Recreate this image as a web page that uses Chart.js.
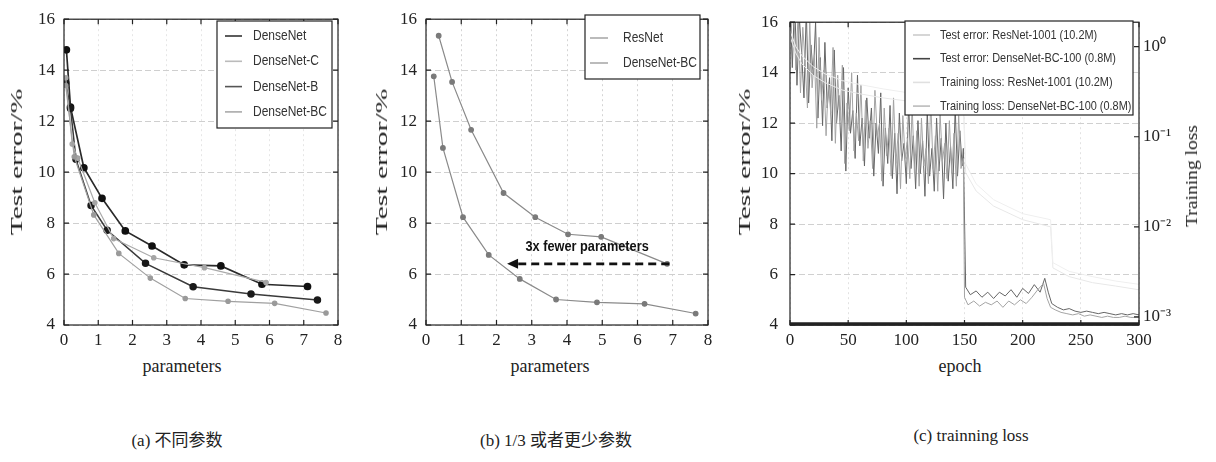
<!DOCTYPE html>
<html>
<head>
<meta charset="utf-8">
<script src="https://cdn.jsdelivr.net/npm/chart.js@4.4.1/dist/chart.umd.min.js"></script>
<style>
  body { margin: 0; background: #fff; width: 1216px; height: 462px; position: relative; overflow: hidden; }
  .panel { position: absolute; top: 0; }
  .t { position: absolute; font-family: "Liberation Serif", "Noto Sans CJK SC", serif; color: #222; white-space: nowrap; }
  .rot { transform-origin: center center; }
</style>
</head>
<body>
<div class="panel" style="left:0px"><canvas id="chartA" width="360" height="352"></canvas></div>
<div class="panel" style="left:370px"><canvas id="chartB" width="360" height="352"></canvas></div>
<div class="panel" style="left:735px"><canvas id="chartC" width="481" height="352"></canvas></div>

<div class="t rot" style="font-size:16px; left:-33px; top:153px; width:100px; text-align:center; transform:rotate(-90deg) scaleX(1.85);">Test error/%</div>
<div class="t rot" style="font-size:16px; left:332px; top:153px; width:100px; text-align:center; transform:rotate(-90deg) scaleX(1.85);">Test error/%</div>
<div class="t rot" style="font-size:16px; left:695px; top:153px; width:100px; text-align:center; transform:rotate(-90deg) scaleX(1.85);">Test error/%</div>
<div class="t rot" style="font-size:17px; left:1142px; top:166px; width:100px; text-align:center; transform:rotate(-90deg) scaleX(1.15);">Training loss</div>

<div class="t" style="font-size:18px; left:132px; top:356px; width:100px; text-align:center;">parameters</div>
<div class="t" style="font-size:18px; left:500px; top:356px; width:100px; text-align:center;">parameters</div>
<div class="t" style="font-size:18px; left:910px; top:356px; width:100px; text-align:center;">epoch</div>

<div class="t" style="font-size:17px; left:77px; top:426px; width:200px; text-align:center;">(a) 不同参数</div>
<div class="t" style="font-size:17px; left:456px; top:426px; width:200px; text-align:center;">(b) 1/3 或者更少参数</div>
<div class="t" style="font-size:17px; left:871px; top:426px; width:200px; text-align:center;">(c) trainning loss</div>

<script>
// (a) DenseNet variants, params (M) vs test error (%)
const denseX  = [0.07, 0.19, 0.58, 1.11, 1.79, 2.57, 3.51, 4.58, 5.78, 7.11];
const denseY  = [14.8, 12.55, 10.17, 8.97, 7.69, 7.1, 6.36, 6.32, 5.6, 5.51];
const denseCX = [0.05, 0.24, 0.4, 0.9, 1.45, 2.62, 4.1, 5.9];
const denseCY = [13.7, 11.1, 10.55, 8.8, 7.39, 6.64, 6.25, 5.67];
const denseBX = [0.05, 0.19, 0.35, 0.79, 1.26, 2.38, 3.77, 5.46, 7.4];
const denseBY = [13.5, 12.5, 10.5, 8.69, 7.72, 6.42, 5.5, 5.22, 4.98];
const denseBCX = [0.05, 0.3, 0.87, 1.6, 2.52, 3.54, 4.79, 6.15, 7.65];
const denseBCY = [13.4, 10.6, 8.32, 6.81, 5.84, 5.04, 4.93, 4.85, 4.47];

// (b) ResNet vs DenseNet-BC
const resX = [0.36, 0.74, 1.28, 2.2, 3.1, 4.03, 4.97, 6.84];
const resY = [15.35, 13.54, 11.66, 9.18, 8.23, 7.56, 7.46, 6.4];
const bcX  = [0.22, 0.48, 1.05, 1.78, 2.66, 3.69, 4.85, 6.2, 7.65];
const bcY  = [13.76, 10.95, 8.23, 6.75, 5.81, 5.0, 4.89, 4.83, 4.45];
const arrowFrom = [6.9, 6.4];
const arrowTo   = [2.3, 6.4];
const arrowText = '3x fewer parameters';
const arrowTextAt = [4.57, 7.05];

// (c) test error (%) and training loss per epoch
const denseErrEpoch = [0,2,4,6,8,10,12,14,16,18,20,22,24,26,28,30,32,34,36,38,40,42,44,46,48,50,52,54,56,58,60,62,64,66,68,70,72,74,76,78,
  80,82,84,86,88,90,92,94,96,98,100,102,104,106,108,110,112,114,116,118,120,122,124,126,128,130,132,134,136,138,140,142,144,146,148,149,
  151,155,160,165,170,175,180,185,190,195,200,205,210,215,219,222,225,230,235,240,245,250,255,260,265,270,275,280,285,290,295,300];
const denseErr = [16.8,14.2,17.0,13.5,16.2,14.8,13.0,16.5,12.8,15.1,13.9,16.0,12.2,14.6,11.9,15.2,12.6,13.8,11.3,14.9,12.0,13.1,10.9,14.2,10.1,13.4,11.6,12.5,10.6,13.9,11.1,12.2,10.3,13.0,11.4,12.6,9.9,12.0,10.8,13.2,
  9.5,11.8,10.4,12.7,9.8,11.6,9.2,12.4,10.5,11.2,9.6,12.8,10.2,11.5,9.4,12.1,10.0,11.3,9.1,12.5,9.9,11.0,9.3,12.2,10.1,11.4,9.0,12.0,9.7,11.1,9.4,12.6,9.9,11.7,10.3,11.0,
  5.5,5.2,5.35,5.1,5.3,5.05,5.3,5.15,5.4,5.1,5.45,5.25,5.6,5.3,5.85,5.3,4.85,4.7,4.6,4.65,4.55,4.5,4.55,4.5,4.45,4.5,4.45,4.4,4.45,4.4,4.45,4.4];
const resErrEpoch = [1,3,5,7,9,11,13,15,17,19,21,23,25,27,29,31,33,35,37,39,41,43,45,47,49,51,53,55,57,59,61,63,65,67,69,71,73,75,77,79,
  81,83,85,87,89,91,93,95,97,99,101,103,105,107,109,111,113,115,117,119,121,123,125,127,129,131,133,135,137,139,141,143,145,147,149,
  150,153,158,163,168,173,178,183,188,193,198,203,208,213,218,221,224,228,233,238,243,248,253,258,263,268,273,278,283,288,293,298,300];
const resErr = [15.6,17.0,14.1,16.4,13.2,15.8,14.4,12.6,16.0,13.4,14.7,11.8,15.4,12.9,14.1,11.5,13.6,12.4,15.0,11.2,13.9,12.1,14.3,10.4,12.8,11.7,14.0,10.9,12.4,11.3,13.5,10.5,12.9,11.0,12.1,10.2,13.3,11.5,12.0,9.7,
  12.6,10.7,11.8,9.9,13.0,10.4,11.6,9.4,12.3,10.6,11.4,9.8,12.7,10.0,11.7,9.5,12.2,10.3,11.0,9.6,12.9,10.2,11.5,9.3,12.4,10.5,11.2,9.8,12.1,10.0,11.6,9.5,12.3,10.2,10.6,
  5.1,4.8,4.95,4.75,4.9,4.8,4.95,4.7,4.95,4.8,5.0,4.85,5.1,5.4,5.65,5.05,4.7,4.6,4.5,4.45,4.4,4.45,4.35,4.4,4.35,4.3,4.35,4.3,4.3,4.35,4.3,4.3,4.3];
const lossEpoch = [0,5,10,20,30,45,60,80,100,120,149,151,160,175,200,224,226,240,260,280,300];
const resLoss   = [1.5,1.0,0.8,0.6,0.5,0.42,0.38,0.34,0.31,0.29,0.28,0.05,0.03,0.02,0.014,0.012,0.004,0.0032,0.0028,0.0025,0.0023];
const denseLoss = [1.3,0.85,0.65,0.48,0.4,0.33,0.3,0.27,0.25,0.24,0.23,0.04,0.025,0.017,0.012,0.01,0.0035,0.0028,0.0024,0.0022,0.002];
const lossTicks = [1, 0.1, 0.01, 0.001];
const lossTickLabels = ['10⁰', '10⁻¹', '10⁻²', '10⁻³'];

const pts = (xs, ys) => xs.map((x, i) => ({ x: x, y: ys[i] }));

Chart.defaults.font.family = '"Liberation Serif", serif';
Chart.defaults.color = '#222';

const frame = {
  id: 'frame',
  afterDraw(chart, args, o) {
    const { ctx, chartArea: a, scales } = chart;
    const t = 5;
    ctx.save();
    ctx.strokeStyle = '#222';
    ctx.lineWidth = 1.2;
    ctx.strokeRect(a.left, a.top, a.right - a.left, a.bottom - a.top);
    ctx.beginPath();
    scales.x.ticks.forEach(k => {
      const p = scales.x.getPixelForValue(k.value);
      ctx.moveTo(p, a.bottom); ctx.lineTo(p, a.bottom - t);
      ctx.moveTo(p, a.top); ctx.lineTo(p, a.top + t);
    });
    scales.y.ticks.forEach(k => {
      const p = scales.y.getPixelForValue(k.value);
      ctx.moveTo(a.left, p); ctx.lineTo(a.left + t, p);
      if (!scales.y2) { ctx.moveTo(a.right, p); ctx.lineTo(a.right - t, p); }
    });
    if (scales.y2) {
      scales.y2.ticks.forEach(k => {
        const p = scales.y2.getPixelForValue(k.value);
        ctx.moveTo(a.right, p); ctx.lineTo(a.right - t, p);
      });
    }
    ctx.stroke();
    if (o.thickBottom) {
      ctx.lineWidth = 3.5;
      ctx.beginPath();
      ctx.moveTo(a.left, a.bottom - 1); ctx.lineTo(a.right, a.bottom - 1);
      ctx.stroke();
    }
    ctx.restore();
  }
};

const boxLegend = {
  id: 'boxLegend',
  afterDraw(chart, args, o) {
    if (!o.items) return;
    const ctx = chart.ctx;
    ctx.save();
    ctx.fillStyle = '#fff';
    ctx.strokeStyle = '#222';
    ctx.lineWidth = 1.2;
    ctx.fillRect(o.x, o.y, o.w, o.h);
    ctx.strokeRect(o.x, o.y, o.w, o.h);
    ctx.font = o.font;
    ctx.textBaseline = 'middle';
    o.items.forEach((it, i) => {
      const y = o.y + o.first + i * o.gap;
      ctx.strokeStyle = it.color;
      ctx.lineWidth = 1.6;
      ctx.beginPath();
      ctx.moveTo(o.x + o.l0, y); ctx.lineTo(o.x + o.l1, y);
      ctx.stroke();
      ctx.save();
      ctx.translate(o.x + o.tx, y);
      ctx.scale(o.sx, 1);
      ctx.fillStyle = '#333';
      ctx.fillText(it.label, 0, 0);
      ctx.restore();
    });
    ctx.restore();
  }
};

const arrowNote = {
  id: 'arrowNote',
  afterDatasetsDraw(chart, args, o) {
    if (!o.from) return;
    const { ctx, scales } = chart;
    const x0 = scales.x.getPixelForValue(o.from[0]), y0 = scales.y.getPixelForValue(o.from[1]);
    const x1 = scales.x.getPixelForValue(o.to[0]), y1 = scales.y.getPixelForValue(o.to[1]);
    ctx.save();
    ctx.strokeStyle = '#111';
    ctx.lineWidth = 2.6;
    ctx.setLineDash([8, 5]);
    ctx.beginPath();
    ctx.moveTo(x0, y0); ctx.lineTo(x1 + 9, y1);
    ctx.stroke();
    ctx.setLineDash([]);
    ctx.fillStyle = '#111';
    ctx.beginPath();
    ctx.moveTo(x1, y1); ctx.lineTo(x1 + 11, y1 - 5); ctx.lineTo(x1 + 11, y1 + 5);
    ctx.closePath();
    ctx.fill();
    ctx.translate(scales.x.getPixelForValue(o.textAt[0]), scales.y.getPixelForValue(o.textAt[1]));
    ctx.scale(0.85, 1);
    ctx.font = 'bold 15px "Liberation Sans", sans-serif';
    ctx.textAlign = 'center';
    ctx.textBaseline = 'middle';
    ctx.fillText(o.text, 0, 0);
    ctx.restore();
  }
};

const tickFont = { size: 17, family: '"Liberation Serif", serif' };
const legendFont = '15px "Liberation Sans", sans-serif';

function paramScales(yWidth, xGrid) {
  return {
    x: {
      type: 'linear', min: 0, max: 8,
      ticks: { stepSize: 1, font: tickFont, padding: 5 },
      grid: { color: xGrid, drawTicks: false },
      border: { display: false, dash: [2, 3] },
      afterFit: s => { s.height = 27; }
    },
    y: {
      min: 4, max: 16,
      ticks: { stepSize: 2, font: tickFont, padding: 9 },
      grid: { color: '#cfcfcf', drawTicks: false },
      border: { display: false, dash: [6, 3] },
      afterFit: s => { s.width = yWidth; }
    }
  };
}

const lineStyle = (label, xs, ys, color, dot, r, w) => ({
  label: label, data: pts(xs, ys),
  borderColor: color, backgroundColor: dot, pointBackgroundColor: dot, pointBorderColor: dot,
  pointRadius: r, borderWidth: w, tension: 0
});

new Chart(document.getElementById('chartA'), {
  type: 'line',
  data: {
    datasets: [
      lineStyle('DenseNet-BC', denseBCX, denseBCY, '#a0a0a0', '#9a9a9a', 2.2, 1.2),
      lineStyle('DenseNet-C', denseCX, denseCY, '#ababab', '#a5a5a5', 2.2, 1.2),
      lineStyle('DenseNet-B', denseBX, denseBY, '#3a3a3a', '#1a1a1a', 3, 1.5),
      lineStyle('DenseNet', denseX, denseY, '#2a2a2a', '#111', 3, 1.7)
    ]
  },
  options: {
    responsive: false, animation: false,
    layout: { padding: { top: 15, right: 22, left: 0, bottom: 0 } },
    scales: paramScales(64, '#e6e6e6'),
    plugins: {
      legend: { display: false }, tooltip: { enabled: false },
      frame: {},
      boxLegend: {
        x: 217, y: 21, w: 115, h: 107, first: 15, gap: 25.3, l0: 8, l1: 25, tx: 36, sx: 0.8, font: legendFont,
        items: [
          { label: 'DenseNet', color: '#333' },
          { label: 'DenseNet-C', color: '#bbb' },
          { label: 'DenseNet-B', color: '#555' },
          { label: 'DenseNet-BC', color: '#aaa' }
        ]
      }
    }
  },
  plugins: [frame, boxLegend]
});

new Chart(document.getElementById('chartB'), {
  type: 'line',
  data: {
    datasets: [
      lineStyle('ResNet', resX, resY, '#8a8a8a', '#7a7a7a', 2.3, 1.2),
      lineStyle('DenseNet-BC', bcX, bcY, '#8a8a8a', '#7a7a7a', 2.3, 1.2)
    ]
  },
  options: {
    responsive: false, animation: false,
    layout: { padding: { top: 15, right: 22, left: 0, bottom: 0 } },
    scales: paramScales(56, '#d4d4d4'),
    plugins: {
      legend: { display: false }, tooltip: { enabled: false },
      frame: {},
      arrowNote: { from: arrowFrom, to: arrowTo, text: arrowText, textAt: arrowTextAt },
      boxLegend: {
        x: 215, y: 15, w: 115, h: 64, first: 23, gap: 25, l0: 5, l1: 23, tx: 38, sx: 0.8, font: legendFont,
        items: [
          { label: 'ResNet', color: '#aaa' },
          { label: 'DenseNet-BC', color: '#aaa' }
        ]
      }
    }
  },
  plugins: [frame, arrowNote, boxLegend]
});

new Chart(document.getElementById('chartC'), {
  type: 'line',
  data: {
    datasets: [
      { label: 'Training loss: ResNet-1001 (10.2M)', data: pts(lossEpoch, resLoss), yAxisID: 'y2',
        borderColor: '#efefef', borderWidth: 1, pointRadius: 0, tension: 0 },
      { label: 'Training loss: DenseNet-BC-100 (0.8M)', data: pts(lossEpoch, denseLoss), yAxisID: 'y2',
        borderColor: '#e8e8e8', borderWidth: 1, pointRadius: 0, tension: 0 },
      { label: 'Test error: ResNet-1001 (10.2M)', data: pts(resErrEpoch, resErr), yAxisID: 'y',
        borderColor: '#a4a4a4', borderWidth: 1, pointRadius: 0, tension: 0 },
      { label: 'Test error: DenseNet-BC-100 (0.8M)', data: pts(denseErrEpoch, denseErr), yAxisID: 'y',
        borderColor: '#666', borderWidth: 1, pointRadius: 0, tension: 0 }
    ]
  },
  options: {
    responsive: false, animation: false,
    layout: { padding: { top: 15, right: 0, left: 0, bottom: 0 } },
    scales: {
      x: {
        type: 'linear', min: 0, max: 300,
        ticks: { stepSize: 50, font: tickFont, padding: 5 },
        grid: { color: '#e2e2e2', drawTicks: false },
        border: { display: false, dash: [2, 3] },
        afterFit: s => { s.height = 27; }
      },
      y: {
        min: 4, max: 16, position: 'left',
        ticks: { stepSize: 2, font: tickFont, padding: 12 },
        grid: { color: '#d0d0d0', drawTicks: false },
        border: { display: false, dash: [6, 3] },
        afterFit: s => { s.width = 55; }
      },
      y2: {
        type: 'logarithmic', position: 'right', min: 0.000813, max: 1.87,
        ticks: { font: tickFont, padding: 4, autoSkip: false,
          callback: v => { const i = lossTicks.indexOf(v); return i >= 0 ? lossTickLabels[i] : ''; } },
        afterBuildTicks: s => { s.ticks = lossTicks.map(v => ({ value: v })); },
        grid: { display: false, drawTicks: false },
        border: { display: false },
        afterFit: s => { s.width = 77; }
      }
    },
    plugins: {
      legend: { display: false }, tooltip: { enabled: false },
      frame: { thickBottom: true },
      boxLegend: {
        x: 170, y: 21, w: 228, h: 94, first: 14, gap: 23.7, l0: 8, l1: 25, tx: 35, sx: 0.84, font: '13px "Liberation Sans", sans-serif',
        items: [
          { label: 'Test error: ResNet-1001 (10.2M)', color: '#ccc' },
          { label: 'Test error: DenseNet-BC-100 (0.8M)', color: '#444' },
          { label: 'Training loss: ResNet-1001 (10.2M)', color: '#e0e0e0' },
          { label: 'Training loss: DenseNet-BC-100 (0.8M)', color: '#bbb' }
        ]
      }
    }
  },
  plugins: [frame, boxLegend]
});
</script>
</body>
</html>
